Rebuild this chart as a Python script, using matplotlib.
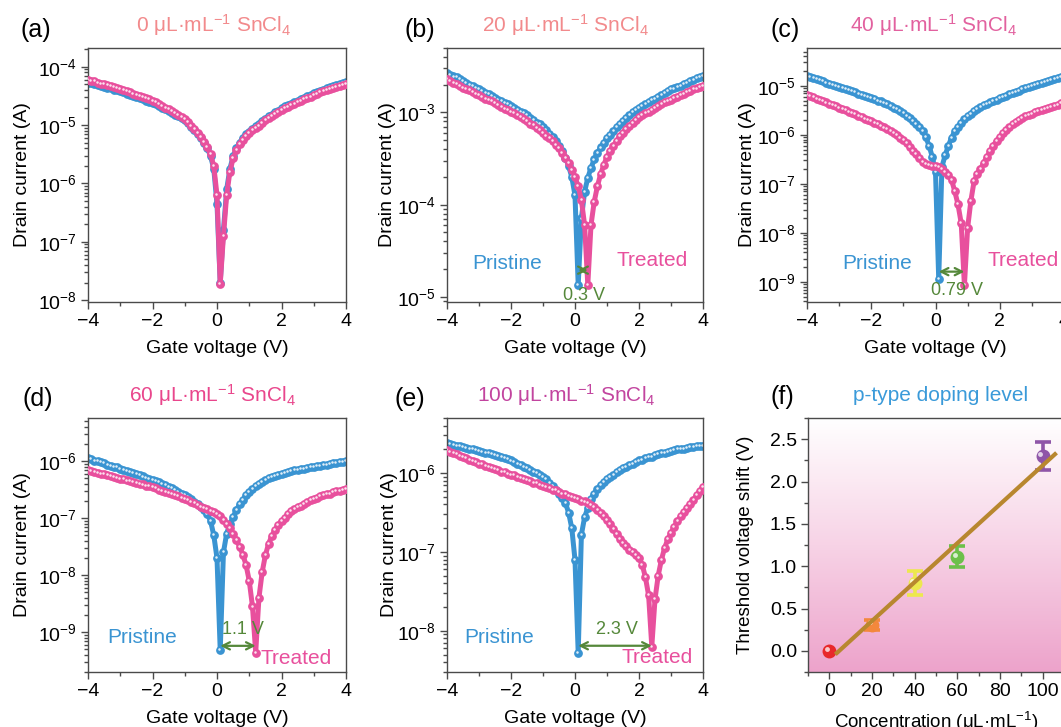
import numpy as np
import matplotlib
matplotlib.use('Agg')
import matplotlib.pyplot as plt
from matplotlib.transforms import offset_copy
from matplotlib.colors import LinearSegmentedColormap
from matplotlib.ticker import LogLocator, NullFormatter, MultipleLocator

plt.rcParams['font.family'] = ['Liberation Sans', 'DejaVu Sans']
plt.rcParams['mathtext.fontset'] = 'custom'
plt.rcParams['mathtext.rm'] = 'Liberation Sans'
plt.rcParams['mathtext.it'] = 'Liberation Sans:italic'
plt.rcParams['mathtext.bf'] = 'Liberation Sans:bold'

# ---------------- data ----------------
gate_voltage = np.round(np.arange(-40, 41) / 10.0, 1)   # sweep grid, V

# log10 of drain current (A)
a_pristine = [-4.27,-4.28,-4.30,-4.31,-4.33,-4.34,-4.36,-4.37,-4.39,-4.40,
              -4.42,-4.44,-4.46,-4.48,-4.50,-4.52,-4.54,-4.56,-4.58,-4.60,
              -4.62,-4.64,-4.67,-4.70,-4.73,-4.76,-4.79,-4.82,-4.85,-4.88,
              -4.92,-4.97,-5.03,-5.09,-5.15,-5.22,-5.31,-5.40,-5.53,-5.75,
              -6.35,-7.70,-6.80,-6.10,-5.75,-5.53,-5.40,-5.30,-5.22,-5.16,
              -5.11,-5.06,-5.02,-4.98,-4.93,-4.89,-4.85,-4.82,-4.78,-4.75,
              -4.71,-4.68,-4.66,-4.63,-4.61,-4.58,-4.55,-4.53,-4.50,-4.48,
              -4.45,-4.43,-4.41,-4.39,-4.37,-4.35,-4.33,-4.31,-4.30,-4.28,
              -4.26]
a_treated = [-4.22,-4.24,-4.25,-4.27,-4.29,-4.30,-4.32,-4.33,-4.35,-4.36,
             -4.38,-4.40,-4.42,-4.44,-4.46,-4.48,-4.50,-4.52,-4.54,-4.56,
             -4.58,-4.61,-4.64,-4.67,-4.70,-4.73,-4.76,-4.79,-4.83,-4.86,
             -4.90,-4.95,-5.01,-5.07,-5.13,-5.20,-5.29,-5.38,-5.50,-5.70,
             -6.20,-7.72,-6.90,-6.20,-5.80,-5.57,-5.43,-5.33,-5.25,-5.19,
             -5.14,-5.09,-5.05,-5.01,-4.96,-4.92,-4.88,-4.85,-4.81,-4.78,
             -4.74,-4.71,-4.69,-4.66,-4.64,-4.61,-4.58,-4.56,-4.53,-4.51,
             -4.48,-4.46,-4.44,-4.42,-4.40,-4.38,-4.36,-4.35,-4.33,-4.31,
             -4.30]
b_pristine = [-2.57,-2.59,-2.61,-2.62,-2.64,-2.66,-2.68,-2.70,-2.71,-2.73,
              -2.75,-2.77,-2.79,-2.80,-2.82,-2.84,-2.86,-2.88,-2.90,-2.91,
              -2.93,-2.95,-2.97,-2.99,-3.01,-3.03,-3.06,-3.08,-3.11,-3.13,
              -3.16,-3.19,-3.23,-3.27,-3.31,-3.36,-3.42,-3.49,-3.58,-3.70,
              -3.90,-4.87,-4.15,-3.86,-3.71,-3.60,-3.51,-3.44,-3.38,-3.33,
              -3.28,-3.24,-3.20,-3.16,-3.12,-3.09,-3.06,-3.03,-3.00,-2.97,
              -2.95,-2.93,-2.91,-2.89,-2.87,-2.85,-2.83,-2.81,-2.79,-2.77,
              -2.75,-2.74,-2.72,-2.71,-2.69,-2.68,-2.66,-2.65,-2.63,-2.62,
              -2.60]
b_treated = [-2.64,-2.66,-2.68,-2.69,-2.71,-2.73,-2.75,-2.76,-2.78,-2.80,
             -2.81,-2.83,-2.85,-2.87,-2.88,-2.90,-2.92,-2.94,-2.96,-2.97,
             -2.99,-3.01,-3.03,-3.05,-3.07,-3.09,-3.12,-3.14,-3.17,-3.19,
             -3.22,-3.25,-3.28,-3.31,-3.35,-3.39,-3.44,-3.49,-3.55,-3.62,
             -3.70,-3.80,-3.95,-4.22,-4.87,-4.22,-3.97,-3.80,-3.67,-3.57,
             -3.48,-3.42,-3.36,-3.31,-3.26,-3.22,-3.18,-3.15,-3.11,-3.08,
             -3.05,-3.03,-3.01,-2.99,-2.97,-2.95,-2.93,-2.91,-2.89,-2.88,
             -2.86,-2.84,-2.83,-2.81,-2.80,-2.78,-2.77,-2.75,-2.74,-2.72,
             -2.71]
c_pristine = [-4.80,-4.82,-4.85,-4.87,-4.89,-4.91,-4.94,-4.96,-4.98,-5.01,
              -5.03,-5.05,-5.07,-5.09,-5.11,-5.13,-5.16,-5.18,-5.20,-5.22,
              -5.24,-5.27,-5.30,-5.32,-5.35,-5.38,-5.41,-5.45,-5.48,-5.52,
              -5.56,-5.61,-5.66,-5.71,-5.77,-5.83,-5.92,-6.05,-6.22,-6.45,
              -6.75,-8.94,-6.65,-6.42,-6.22,-6.06,-5.93,-5.83,-5.75,-5.68,
              -5.62,-5.57,-5.52,-5.47,-5.43,-5.40,-5.37,-5.34,-5.31,-5.28,
              -5.25,-5.22,-5.20,-5.17,-5.14,-5.12,-5.10,-5.07,-5.05,-5.03,
              -5.00,-4.98,-4.96,-4.94,-4.92,-4.90,-4.88,-4.86,-4.84,-4.82,
              -4.80]
c_treated = [-5.18,-5.20,-5.23,-5.26,-5.28,-5.31,-5.34,-5.37,-5.39,-5.42,
             -5.45,-5.48,-5.50,-5.53,-5.56,-5.58,-5.61,-5.64,-5.67,-5.69,
             -5.72,-5.75,-5.78,-5.81,-5.85,-5.88,-5.92,-5.96,-6.01,-6.06,
             -6.11,-6.17,-6.24,-6.32,-6.40,-6.48,-6.56,-6.60,-6.62,-6.63,
             -6.64,-6.65,-6.70,-6.75,-6.82,-6.92,-7.15,-7.42,-7.80,-9.07,
             -7.90,-7.35,-6.95,-6.80,-6.70,-6.57,-6.45,-6.33,-6.22,-6.12,
             -6.04,-5.97,-5.90,-5.84,-5.78,-5.73,-5.69,-5.65,-5.62,-5.60,
             -5.57,-5.54,-5.52,-5.49,-5.47,-5.45,-5.43,-5.41,-5.39,-5.36,
             -5.34]
d_pristine = [-5.95,-5.97,-5.99,-6.00,-6.02,-6.04,-6.06,-6.08,-6.10,-6.11,
              -6.13,-6.15,-6.17,-6.19,-6.21,-6.23,-6.25,-6.27,-6.29,-6.31,
              -6.33,-6.35,-6.37,-6.40,-6.42,-6.45,-6.48,-6.51,-6.54,-6.57,
              -6.60,-6.63,-6.67,-6.71,-6.75,-6.80,-6.86,-6.93,-7.05,-7.30,
              -7.70,-9.32,-7.60,-7.27,-7.10,-6.98,-6.86,-6.76,-6.68,-6.60,
              -6.54,-6.49,-6.44,-6.40,-6.36,-6.33,-6.30,-6.28,-6.26,-6.24,
              -6.22,-6.21,-6.19,-6.18,-6.16,-6.15,-6.14,-6.13,-6.12,-6.11,
              -6.10,-6.09,-6.08,-6.07,-6.06,-6.05,-6.04,-6.03,-6.02,-6.01,
              -6.00]
d_treated = [-6.16,-6.17,-6.19,-6.20,-6.22,-6.23,-6.25,-6.26,-6.28,-6.29,
             -6.31,-6.32,-6.34,-6.35,-6.37,-6.38,-6.40,-6.41,-6.43,-6.44,
             -6.46,-6.48,-6.50,-6.52,-6.54,-6.56,-6.58,-6.60,-6.62,-6.64,
             -6.66,-6.68,-6.71,-6.74,-6.77,-6.80,-6.82,-6.84,-6.87,-6.89,
             -6.92,-6.97,-7.03,-7.10,-7.18,-7.27,-7.38,-7.50,-7.64,-7.82,
             -8.10,-8.55,-9.36,-8.40,-7.95,-7.65,-7.45,-7.31,-7.21,-7.12,
             -7.05,-6.99,-6.93,-6.88,-6.84,-6.81,-6.78,-6.75,-6.72,-6.69,
             -6.66,-6.64,-6.62,-6.60,-6.58,-6.57,-6.55,-6.53,-6.52,-6.50,
             -6.49]
e_pristine = [-5.62,-5.63,-5.64,-5.65,-5.66,-5.67,-5.68,-5.69,-5.70,-5.71,
              -5.72,-5.73,-5.74,-5.75,-5.76,-5.77,-5.78,-5.80,-5.81,-5.82,
              -5.84,-5.86,-5.88,-5.90,-5.92,-5.94,-5.96,-5.98,-6.00,-6.03,
              -6.05,-6.08,-6.12,-6.16,-6.21,-6.26,-6.31,-6.38,-6.50,-6.70,
              -7.10,-8.28,-6.78,-6.56,-6.44,-6.33,-6.26,-6.20,-6.15,-6.11,
              -6.08,-6.05,-6.02,-5.99,-5.96,-5.94,-5.92,-5.90,-5.88,-5.86,
              -5.84,-5.83,-5.81,-5.80,-5.79,-5.77,-5.76,-5.75,-5.74,-5.73,
              -5.72,-5.71,-5.70,-5.70,-5.69,-5.68,-5.67,-5.67,-5.66,-5.65,
              -5.65]
e_treated = [-5.71,-5.73,-5.75,-5.76,-5.78,-5.80,-5.81,-5.83,-5.85,-5.86,
             -5.88,-5.89,-5.91,-5.92,-5.94,-5.95,-5.96,-5.98,-5.99,-6.01,
             -6.02,-6.03,-6.05,-6.06,-6.08,-6.09,-6.10,-6.12,-6.13,-6.15,
             -6.16,-6.18,-6.19,-6.21,-6.22,-6.24,-6.26,-6.27,-6.29,-6.30,
             -6.32,-6.33,-6.35,-6.36,-6.38,-6.40,-6.43,-6.47,-6.51,-6.55,
             -6.60,-6.65,-6.71,-6.77,-6.83,-6.89,-6.93,-6.97,-7.00,-7.04,
             -7.08,-7.16,-7.32,-7.55,-8.20,-7.60,-7.30,-7.10,-6.95,-6.84,
             -6.76,-6.68,-6.61,-6.55,-6.49,-6.44,-6.39,-6.34,-6.28,-6.23,
             -6.17]

concentrations = [0, 20, 40, 60, 100]          # uL/mL
panel_titles = ['0', '20', '40', '60', '100']
shift_values = [0.0, 0.31, 0.80, 1.11, 2.30]   # V
shift_errors = [0.0, 0.06, 0.14, 0.125, 0.165]
shift_labels = ['0.3 V', '0.79 V', '1.1 V', '2.3 V']

for arr in [a_pristine, a_treated, b_pristine, b_treated, c_pristine, c_treated,
            d_pristine, d_treated, e_pristine, e_treated]:
    assert len(arr) == len(gate_voltage), len(arr)

# ---------------- style ----------------
BLUE = '#3A94D2'
PINK = '#E8509D'
GREEN = '#55883A'
SPINE = '#4A4A4A'
title_colors = ['#F28A8C', '#F28A8C', '#E2619F', '#E9468C', '#C2449F']
point_colors = ['#E8282A', '#F3883C', '#EDE84E', '#6CC04A', '#8F55A8']

W, H = 1061, 727
fig = plt.figure(figsize=(W / 100, H / 100), dpi=100)


def px_axes(left, top, right, bottom):
    return fig.add_axes([left / W, 1 - bottom / H, (right - left) / W, (bottom - top) / H])


def style(ax):
    for s in ax.spines.values():
        s.set_color(SPINE)
        s.set_linewidth(1.0)
    ax.tick_params(which='both', direction='out', top=False, right=False,
                   colors=SPINE, labelcolor='black', labelsize=14, width=1.0)
    ax.tick_params(which='major', length=5, pad=3)
    ax.tick_params(which='minor', length=3)


def iv_panel(ax, pristine, treated, ylim, label_x):
    for k, (arr, color) in enumerate([(pristine, BLUE), (treated, PINK)]):
        cur = 10.0 ** np.array(arr)
        z = 2 + k
        ax.plot(gate_voltage, cur, '-', color=color, lw=3.6, zorder=z,
                solid_capstyle='round', solid_joinstyle='round')
        ax.plot(gate_voltage, cur, 'o', ms=6.3, mfc=color, mec=color, mew=0, zorder=z + 0.1)
        hl = offset_copy(ax.transData, fig=fig, x=-0.6, y=0.7, units='points')
        ax.plot(gate_voltage, cur, 'o', ms=1.8, mfc='white', mec='none', alpha=0.85,
                transform=hl, zorder=z + 0.2)
    ax.set_yscale('log')
    ax.set_xlim(-4, 4)
    ax.set_ylim(*ylim)
    ax.set_xticks([-4, -2, 0, 2, 4])
    ax.xaxis.set_minor_locator(MultipleLocator(1))
    ax.yaxis.set_major_locator(LogLocator(base=10, numticks=20))
    ax.yaxis.set_minor_locator(LogLocator(base=10, subs=np.arange(2, 10), numticks=100))
    ax.yaxis.set_minor_formatter(NullFormatter())
    style(ax)
    ax.set_ylabel('Drain current (A)', fontsize=14)
    ax.yaxis.set_label_coords(label_x, 0.5)
    ax.set_xlabel('Gate voltage (V)', fontsize=14)
    ax.xaxis.set_label_coords(0.5, -0.15)


def annotate_shift(ax, pristine, treated, arrow_log, label, label_pos, pr_pos, tr_pos):
    v1 = gate_voltage[int(np.argmin(pristine))]
    v2 = gate_voltage[int(np.argmin(treated))]
    ax.annotate('', xy=(v2, 10 ** arrow_log), xytext=(v1, 10 ** arrow_log),
                arrowprops=dict(arrowstyle='<->', color=GREEN, lw=1.6,
                                shrinkA=0, shrinkB=0, mutation_scale=13), zorder=6)
    ax.text(label_pos[0], 10 ** label_pos[1], label, color=GREEN, fontsize=13,
            ha='center', va='center', zorder=7)
    ax.text(pr_pos[0], 10 ** pr_pos[1], 'Pristine', color=BLUE, fontsize=15,
            ha='left', va='center', zorder=7)
    ax.text(tr_pos[0], 10 ** tr_pos[1], 'Treated', color=PINK, fontsize=15,
            ha='left', va='center', zorder=7, clip_on=False)


def title(ax, text, color, xfrac):
    ax.text(xfrac, 1.063, text, transform=ax.transAxes, color=color, fontsize=15,
            ha='center', va='baseline')


ax_a = px_axes(88, 48, 346, 302)
ax_b = px_axes(447, 48, 703, 302)
ax_c = px_axes(807, 48, 1064, 302)
ax_d = px_axes(88, 418, 346, 672)
ax_e = px_axes(447, 418, 703, 672)
ax_f = px_axes(808, 418, 1064, 672)

iv_panel(ax_a, a_pristine, a_treated, (9.3e-9, 2.1e-4), -0.221)
iv_panel(ax_b, b_pristine, b_treated, (8.8e-6, 5.0e-3), -0.199)
iv_panel(ax_c, c_pristine, c_treated, (3.9e-10, 5.9e-5), -0.198)
iv_panel(ax_d, d_pristine, d_treated, (2.0e-10, 5.7e-6), -0.221)
iv_panel(ax_e, e_pristine, e_treated, (3.0e-9, 5.0e-6), -0.191)

annotate_shift(ax_b, b_pristine, b_treated, -4.71, shift_labels[0], (0.28, -4.98),
               (-3.22, -4.64), (1.31, -4.61))
annotate_shift(ax_c, c_pristine, c_treated, -8.79, shift_labels[1], (0.67, -9.18),
               (-2.91, -8.63), (1.61, -8.57))
annotate_shift(ax_d, d_pristine, d_treated, -9.24, shift_labels[2], (0.81, -8.96),
               (-3.41, -9.09), (1.34, -9.46))
annotate_shift(ax_e, e_pristine, e_treated, -8.19, shift_labels[3], (1.30, -7.99),
               (-3.47, -8.09), (1.45, -8.34))

unit = r' μL·mL$^{-1}$ SnCl$_4$'
title(ax_a, panel_titles[0] + unit, title_colors[0], 0.486)
title(ax_b, panel_titles[1] + unit, title_colors[1], 0.462)
title(ax_c, panel_titles[2] + unit, title_colors[2], 0.494)
title(ax_d, panel_titles[3] + unit, title_colors[3], 0.483)
title(ax_e, panel_titles[4] + unit, title_colors[4], 0.466)

# ---------------- panel f ----------------
grad = np.linspace(0, 1, 256).reshape(-1, 1)
bg = LinearSegmentedColormap.from_list('bg', ['#FFFFFF', '#F7D3E6', '#EDA3CB'])
ax_f.imshow(grad, extent=[0, 1, 0, 1], transform=ax_f.transAxes, cmap=bg,
            aspect='auto', origin='upper', zorder=0, interpolation='bilinear')
for xv, yv, ev, c in zip(concentrations, shift_values, shift_errors, point_colors):
    if ev > 0:
        ax_f.errorbar([xv], [yv], yerr=[ev], fmt='none', ecolor=c, elinewidth=2.6,
                      capsize=5.5, capthick=2.6, zorder=3)
    ax_f.plot([xv], [yv], 'o', ms=10, mfc=c, mec='none', zorder=4)
    hl = offset_copy(ax_f.transData, fig=fig, x=-1.6, y=1.6, units='points')
    ax_f.plot([xv], [yv], 'o', ms=3.5, mfc='white', mec='none', alpha=0.75,
              transform=hl, zorder=4.5)
slope, intercept = np.polyfit(concentrations, shift_values, 1)
fit_x = np.array([2.8, 106.5])
ax_f.plot(fit_x, slope * fit_x + intercept, '-', color='#B8872F', lw=3, zorder=5,
          solid_capstyle='butt')
ax_f.set_xlim(-10, 110)
ax_f.set_ylim(-0.25, 2.75)
ax_f.set_xticks([0, 20, 40, 60, 80, 100])
ax_f.xaxis.set_minor_locator(MultipleLocator(10))
ax_f.set_yticks([0.0, 0.5, 1.0, 1.5, 2.0, 2.5])
ax_f.yaxis.set_minor_locator(MultipleLocator(0.25))
ax_f.set_yticklabels(['0.0', '0.5', '1.0', '1.5', '2.0', '2.5'])
style(ax_f)
ax_f.set_ylabel('Threshold voltage shift (V)', fontsize=13.5)
ax_f.yaxis.set_label_coords(-0.211, 0.5)
ax_f.set_xlabel(r'Concentration (μL·mL$^{-1}$)', fontsize=13.5)
ax_f.xaxis.set_label_coords(0.5, -0.15)
ax_f.text(0.516, 1.065, 'p-type doping level', transform=ax_f.transAxes, color='#3A9AD9',
          fontsize=15, ha='center', va='baseline')

# ---------------- panel letters ----------------
for lab, x, y in [('(a)', 21, 30), ('(b)', 405, 30), ('(c)', 770, 30),
                  ('(d)', 22, 399), ('(e)', 395, 399), ('(f)', 770, 397)]:
    fig.text(x / W, 1 - y / H, lab, fontsize=18, ha='left', va='center', color='black')

fig.savefig('out.png', dpi=100)
